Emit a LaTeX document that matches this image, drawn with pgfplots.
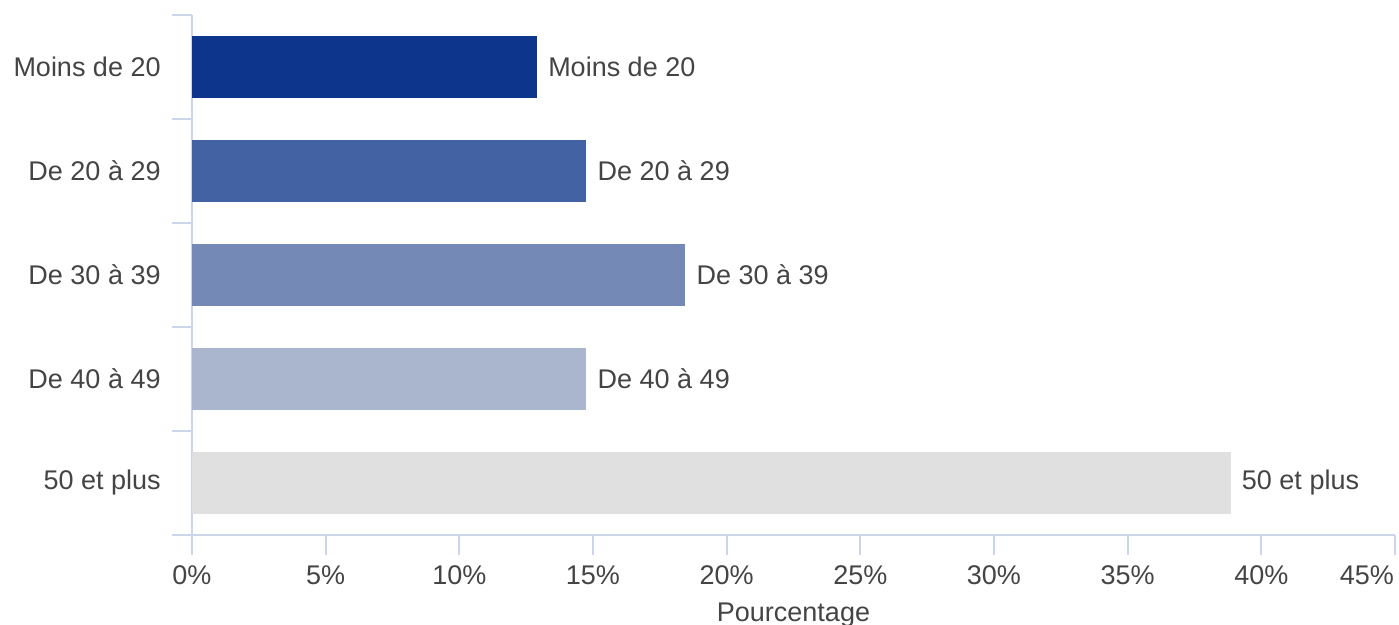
\documentclass[border=0pt]{standalone}
\usepackage{pgfplots}
\pgfplotsset{compat=1.18}
\usepackage{fontspec}
\setmainfont{Liberation Sans}
\definecolor{c1}{HTML}{0D358C}
\definecolor{c2}{HTML}{4262A3}
\definecolor{c3}{HTML}{7589B6}
\definecolor{c4}{HTML}{AAB5CE}
\definecolor{c5}{HTML}{E0E0E0}
\definecolor{axc}{HTML}{CCD6EB}
\definecolor{txt}{HTML}{444444}
\begin{document}
\fontsize{13.5}{16}\selectfont
\begin{tikzpicture}
\begin{axis}[
  at={(0,0)}, anchor=south west,
  scale only axis, width=601.5pt, height=260pt,
  xmin=0, xmax=45, ymin=-0.5, ymax=4.5,
  xbar, bar width=31pt,
  axis x line*=bottom, axis y line*=left,
  axis line style={axc, line width=1pt},
  every tick/.style={axc, line width=1pt},
  tick align=outside,
  xtick={0,5,...,40},
  xticklabels={0\%,5\%,10\%,15\%,20\%,25\%,30\%,35\%,40\%},
  extra x ticks={45},
  extra x tick labels={45\%},
  extra x tick style={xticklabel style={xshift=-14pt}},
  major tick length=10pt,
  ytick={0,1,2,3,4},
  yticklabels={50 et plus,De 40 à 49,De 30 à 39,De 20 à 29,Moins de 20},
  ytick style={draw=none},
  extra y ticks={-0.5,0.5,1.5,2.5,3.5,4.5},
  extra y tick labels={},
  extra y tick style={ytick style={draw=axc, line width=1pt}},
  ticklabel style={font=\fontsize{13.5}{16}\selectfont, text=txt},
  yticklabel style={xshift=-1pt},
  xticklabel style={yshift=-0.5pt},
  xlabel={Pourcentage},
  xlabel style={font=\fontsize{13.5}{16}\selectfont, text=txt, at={(axis description cs:0.5,0)}, anchor=base, yshift=-43.5pt},
  nodes near coords align=horizontal,
  every node near coord/.append style={font=\fontsize{13.5}{16}\selectfont, text=txt, anchor=west, xshift=1pt},
  clip=false,
]
\addplot[fill=c1, draw=none, bar shift=0pt, nodes near coords={Moins de 20}] coordinates {(12.9,4)};
\addplot[fill=c2, draw=none, bar shift=0pt, nodes near coords={De 20 à 29}] coordinates {(14.75,3)};
\addplot[fill=c3, draw=none, bar shift=0pt, nodes near coords={De 30 à 39}] coordinates {(18.45,2)};
\addplot[fill=c4, draw=none, bar shift=0pt, nodes near coords={De 40 à 49}] coordinates {(14.75,1)};
\addplot[fill=c5, draw=none, bar shift=0pt, nodes near coords={50 et plus}] coordinates {(38.85,0)};
\end{axis}
\pgfresetboundingbox
\path (-96pt,-45pt) rectangle (603.5pt,267.5pt);
\end{tikzpicture}
\end{document}
